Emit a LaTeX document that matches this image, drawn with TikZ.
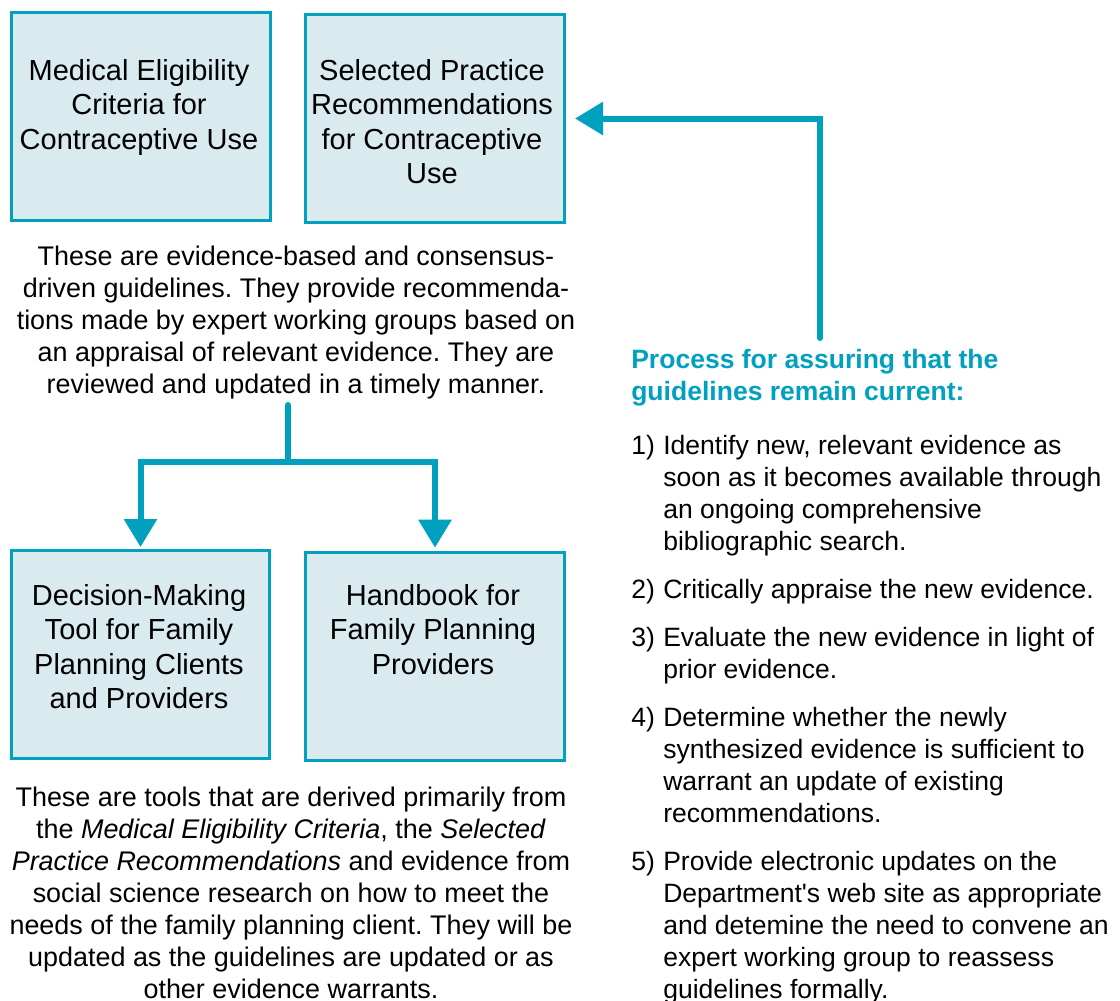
\documentclass[tikz,border=0pt]{standalone}
\usepackage{fontspec}
\setmainfont{Liberation Sans}
\usetikzlibrary{arrows.meta}
\definecolor{tealline}{HTML}{00A0BF}
\definecolor{boxfill}{HTML}{DAEBF0}
\frenchspacing
\begin{document}
\begin{tikzpicture}[x=0.75pt,y=-0.75pt,
  box/.style={draw=tealline, fill=boxfill, line width=2.25pt, minimum width=194.25pt, minimum height=156pt, inner sep=0pt, anchor=north west},
  boxtext/.style={font=\fontsize{21.75}{25.9}\selectfont, align=center, inner sep=0pt, anchor=north},
  para/.style={font=\frenchspacing\fontsize{20.2}{24}\selectfont, align=center, inner sep=0pt, anchor=north},
  listnum/.style={font=\fontsize{19.9}{24}\selectfont, inner sep=0pt, anchor=north west},
  listtxt/.style={font=\fontsize{19.9}{24}\selectfont, align=left, inner sep=0pt, anchor=north west},
  head/.style={font=\fontsize{19.9}{24}\selectfont\bfseries, text=tealline, align=left, inner sep=0pt, anchor=north west},
  connline/.style={draw=tealline, line width=4.5pt, line cap=round},
  conn/.style={connline, -{Triangle[length=21pt,width=24pt]}}
]
\useasboundingbox (0,0) rectangle (1120,1000);

% boxes
\node[box] (b1) at (10,11) {};
\node[box] (b2) at (304,13) {};
\node[box, minimum width=193.5pt] (b3) at (10,549) {};
\node[box] (b4) at (304,551) {};

\node[boxtext] (t1) at (139,59) {Medical Eligibility\\Criteria for\\Contraceptive Use};
\node[boxtext] (t2) at (432,59) {Selected Practice\\Recommendations\\for Contraceptive\\Use};
\node[boxtext] (t3) at (139,584) {Decision-Making\\Tool for Family\\Planning Clients\\and Providers};
\node[boxtext] (t4) at (433,584) {Handbook for\\Family Planning\\Providers};

% paragraphs
\node[para] (p1) at (296,246) {These are evidence-based and consensus-\\driven guidelines. They provide recommenda-\\tions made by expert working groups based on\\an appraisal of relevant evidence. They are\\reviewed and updated in a timely manner.};
\node[para] (p2) at (291,787) {These are tools that are derived primarily from\\the \textit{Medical Eligibility Criteria}, the \textit{Selected}\\\textit{Practice Recommendations} and evidence from\\social science research on how to meet the\\needs of the family planning client. They will be\\updated as the guidelines are updated or as\\other evidence warrants.};

% process
\node[head] (hd) at (631,348.5) {Process for assuring that the\\guidelines remain current:};

\node[listnum] (n1) at (631,434.5) {1)};
\node[listtxt] (l1) at (663,434.5) {Identify new, relevant evidence as\\soon as it becomes available through\\an ongoing comprehensive\\bibliographic search.};
\node[listnum] (n2) at (631,578.5) {2)};
\node[listtxt] (l2) at (663,578.5) {Critically appraise the new evidence.};
\node[listnum] (n3) at (631,626.5) {3)};
\node[listtxt] (l3) at (663,626.5) {Evaluate the new evidence in light of\\prior evidence.};
\node[listnum] (n4) at (631,706.5) {4)};
\node[listtxt] (l4) at (663,706.5) {Determine whether the newly\\synthesized evidence is sufficient to\\warrant an update of existing\\recommendations.};
\node[listnum] (n5) at (631,850.5) {5)};
\node[listtxt] (l5) at (663,850.5) {Provide electronic updates on the\\Department\textquotesingle s web site as appropriate\\and detemine the need to convene an\\expert working group to reassess\\guidelines formally.};

% connectors
\coordinate (forktop) at (288,405);
\coordinate (split) at (288,462);
\draw[connline] (forktop) -- (split);
\draw[conn, shorten >=1.5pt] (split) -| (b3.north);
\draw[conn, shorten >=2.5pt] (split) -| (b4.north);

\coordinate (procsrc) at (820,338);
\draw[conn, shorten >=6.75pt] (procsrc) |- (b2.east);
\end{tikzpicture}
\end{document}
